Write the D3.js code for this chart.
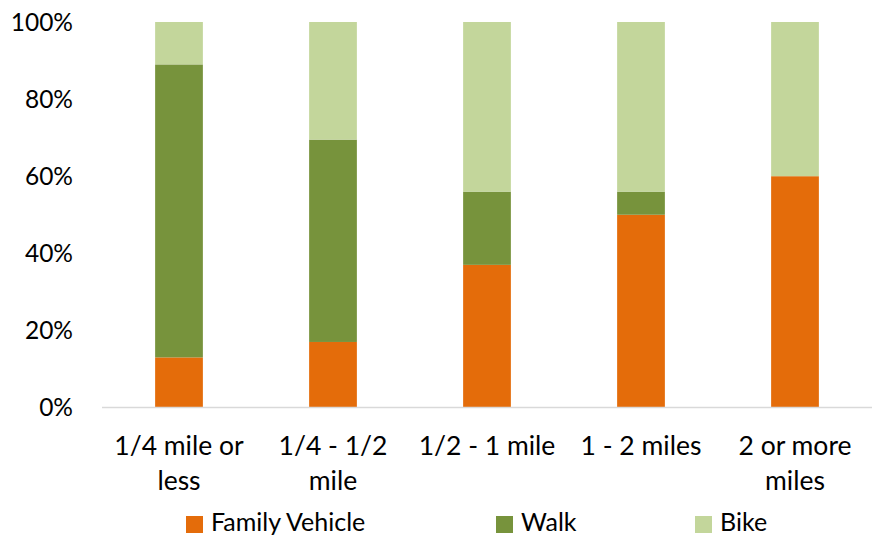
<!DOCTYPE html>
<html>
<head>
<meta charset="utf-8">
<script src="https://cdn.jsdelivr.net/npm/d3@7"></script>
<style>
  body { margin: 0; background: #fff; }
  svg text { font-family: Lato, "Open Sans", sans-serif; fill: #000; }
</style>
</head>
<body>
<svg width="872" height="537"></svg>
<script>
// distance categories and share of trips (percent) by mode
const categories = ['1/4 mile or less', '1/4 - 1/2 mile', '1/2 - 1 mile', '1 - 2 miles', '2 or more miles'];
const familyVehicle = [13, 17, 37, 50, 60];
const walk = [76, 52.5, 19, 6, 0];
const bike = [11, 30.5, 44, 44, 40];
const seriesNames = ['Family Vehicle', 'Walk', 'Bike'];
const yTicks = [0, 20, 40, 60, 80, 100];

const colors = ['#E46C0A', '#77933C', '#C3D69B'];

const rows = categories.map((c, i) => ({
  cat: c, 'Family Vehicle': familyVehicle[i], Walk: walk[i], Bike: bike[i]
}));
const stacked = d3.stack().keys(seriesNames)(rows);

const plotLeft = 102, plotRight = 872, plotTop = 22, plotBottom = 407.5;
const svg = d3.select('svg');

const x = d3.scaleBand()
  .range([plotLeft, plotRight])
  .domain(categories)
  .paddingInner(0.69)
  .paddingOuter(0.345);

const y = d3.scaleLinear()
  .range([plotBottom, plotTop])
  .domain([0, 100]);

// y labels
svg.append('g').selectAll('text').data(yTicks).enter().append('text')
  .attr('x', 73)
  .attr('y', d => y(d))
  .attr('dy', '0.35em')
  .attr('text-anchor', 'end')
  .attr('font-size', 24.5)
  .text(d => d + '%');

// bars
svg.append('g').selectAll('g').data(stacked).enter().append('g')
  .attr('fill', (d, i) => colors[i])
  .selectAll('rect').data(d => d).enter().append('rect')
  .attr('x', d => x(d.data.cat))
  .attr('y', d => y(d[1]))
  .attr('height', d => y(d[0]) - y(d[1]))
  .attr('width', x.bandwidth());

// baseline
svg.append('line')
  .attr('x1', plotLeft).attr('x2', plotRight)
  .attr('y1', plotBottom).attr('y2', plotBottom)
  .attr('stroke', '#d9d9d9').attr('stroke-width', 1.5);

// x labels, wrapped to the band
const xl = svg.append('g');
categories.forEach(c => {
  const cx = x(c) + x.bandwidth() / 2;
  const t = xl.append('text')
    .attr('x', cx)
    .attr('y', 455)
    .attr('text-anchor', 'middle')
    .attr('font-size', 26.5);
  let line = [];
  let ts = t.append('tspan').attr('x', cx);
  c.split(' ').forEach(w => {
    line.push(w);
    ts.text(line.join(' '));
    if (ts.node().getComputedTextLength() > 150 && line.length > 1) {
      line.pop();
      ts.text(line.join(' '));
      line = [w];
      ts = t.append('tspan').attr('x', cx).attr('dy', 35).text(w);
    }
  });
});

// legend
const legendX = [186, 496, 695];
const lg = svg.append('g').selectAll('g').data(seriesNames).enter().append('g')
  .attr('transform', (d, i) => `translate(${legendX[i]}, 516)`);
lg.append('rect').attr('width', 17).attr('height', 17).attr('fill', (d, i) => colors[i]);
lg.append('text').attr('x', 25).attr('y', 15).attr('font-size', 25).text(d => d);
</script>
</body>
</html>
